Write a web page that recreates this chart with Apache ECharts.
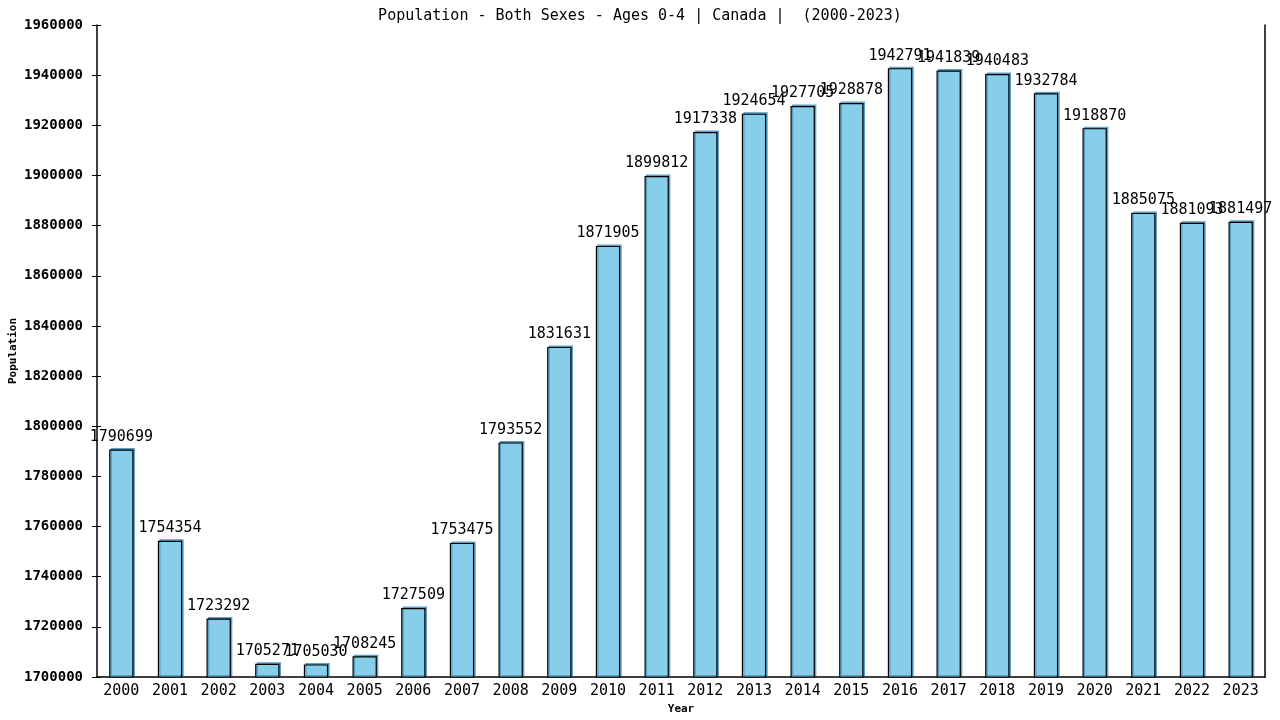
<!DOCTYPE html>
<html>
<head>
<meta charset="utf-8">
<script src="https://cdn.jsdelivr.net/npm/echarts@6/dist/echarts.min.js"></script>
<style>
  html, body { margin: 0; padding: 0; background: #fff; }
  #chart { width: 1280px; height: 720px; }
</style>
</head>
<body>
<div id="chart"></div>
<script>
// chart data
const years = ["2000", "2001", "2002", "2003", "2004", "2005", "2006", "2007",
  "2008", "2009", "2010", "2011", "2012", "2013", "2014", "2015",
  "2016", "2017", "2018", "2019", "2020", "2021", "2022", "2023"];
const population = [1790699, 1754354, 1723292, 1705271, 1705030, 1708245, 1727509, 1753475,
  1793552, 1831631, 1871905, 1899812, 1917338, 1924654, 1927705, 1928878,
  1942791, 1941839, 1940483, 1932784, 1918870, 1885075, 1881093, 1881497];
const yMin = 1700000;
const yMax = 1960000;
const yStep = 20000;

const font = "DejaVu Sans Mono";

echarts.init(document.getElementById("chart")).setOption({
  animation: false,
  backgroundColor: "#fff",
  title: {
    text: "Population - Both Sexes - Ages 0-4 | Canada |  (2000-2023)",
    left: "center",
    top: 4,
    textStyle: { fontFamily: font, fontSize: 15, fontWeight: "normal", color: "#000" }
  },
  grid: { left: 97, right: 15, top: 25, bottom: 43, containLabel: false, outerBoundsMode: "none" },
  xAxis: {
    type: "category",
    data: years,
    name: "Year",
    nameLocation: "middle",
    nameGap: 26,
    nameTextStyle: { fontFamily: font, fontSize: 11, fontWeight: "bold", color: "#000" },
    axisLine: { lineStyle: { color: "#000", width: 1.5 } },
    axisTick: { show: false },
    axisLabel: { fontFamily: font, fontSize: 15, color: "#000", margin: 7 }
  },
  yAxis: [
    {
      type: "value",
      min: yMin,
      max: yMax,
      interval: yStep,
      axisLine: { show: true, lineStyle: { color: "#000", width: 1.5 } },
      axisTick: { show: true, length: 5, lineStyle: { color: "#000" } },
      axisLabel: {
        fontFamily: font, fontSize: 14, fontWeight: "bold", color: "#000", margin: 14,
        formatter: function (v) { return String(v); }
      },
      splitLine: { show: false }
    },
    {
      // inside half of the crossing ticks, carries the axis name
      type: "value",
      min: yMin,
      max: yMax,
      interval: yStep,
      position: "left",
      name: "Population",
      nameLocation: "middle",
      nameGap: 78,
      nameTextStyle: { fontFamily: font, fontSize: 11, fontWeight: "bold", color: "#000" },
      axisLine: { show: false },
      axisTick: { show: true, inside: true, length: 4, lineStyle: { color: "#000" } },
      axisLabel: { show: false },
      splitLine: { show: false }
    },
    {
      // plain frame line on the right
      type: "value",
      min: yMin,
      max: yMax,
      interval: yStep,
      position: "right",
      axisLine: { show: true, lineStyle: { color: "#000", width: 1.5 } },
      axisTick: { show: false },
      axisLabel: { show: false },
      splitLine: { show: false }
    }
  ],
  series: [
    {
      type: "bar",
      data: population,
      barWidth: "50%",
      itemStyle: {
        color: "#87CEEB",
        borderColor: "#000",
        borderWidth: 1.2,
        shadowColor: "#5b9fc4",
        shadowOffsetX: 1.5,
        shadowOffsetY: -1.5,
        shadowBlur: 0
      },
      label: {
        show: true,
        position: "top",
        distance: 5,
        fontFamily: font,
        fontSize: 15,
        color: "#000"
      }
    }
  ]
});
</script>
</body>
</html>
